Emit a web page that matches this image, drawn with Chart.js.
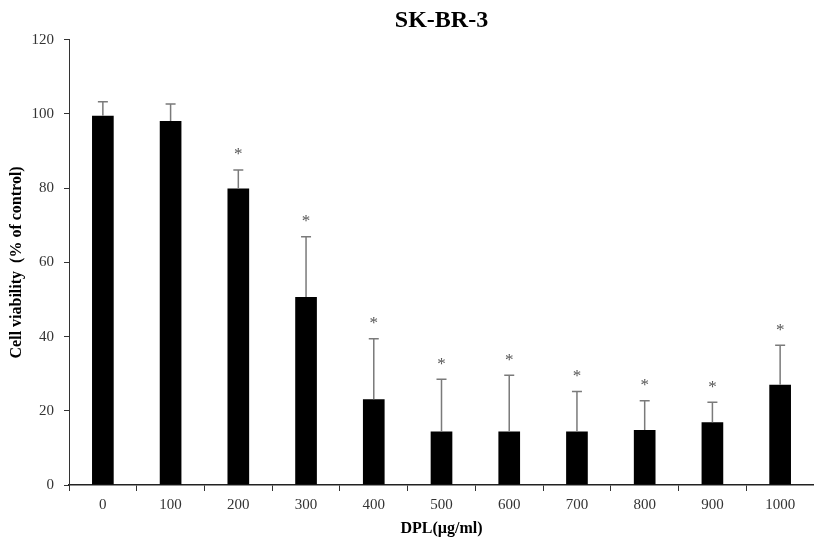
<!DOCTYPE html>
<html>
<head>
<meta charset="utf-8">
<script src="https://cdn.jsdelivr.net/npm/chart.js@4"></script>
<style>
  html, body { margin: 0; padding: 0; background: #fff; overflow: hidden; }
  #wrap { width: 814px; height: 537px; }
</style>
</head>
<body>
<div id="wrap"><canvas id="chartViability"></canvas></div>
<script>
// data
const doses = ["0", "100", "200", "300", "400", "500", "600", "700", "800", "900", "1000"];
const viability = [99.5, 98.1, 79.9, 50.7, 23.1, 14.4, 14.4, 14.4, 14.8, 16.9, 27.0];
const sdUpper = [3.8, 4.6, 5.0, 16.2, 16.3, 14.1, 15.2, 10.8, 7.9, 5.4, 10.7];
const significant = [false, false, true, true, true, true, true, true, true, true, true];
const yTicks = [0, 20, 40, 60, 80, 100, 120];

const serif = "'Liberation Serif', 'Times New Roman', serif";

// upper error bars + asterisks
const errorBars = {
    id: "errorBars",
    afterDatasetsDraw(chart) {
        const ctx = chart.ctx;
        const y = chart.scales.y;
        const meta = chart.getDatasetMeta(0);
        ctx.save();
        meta.data.forEach(function (bar, i) {
            const yBar = y.getPixelForValue(viability[i]);
            const yTop = y.getPixelForValue(viability[i] + sdUpper[i]);
            ctx.strokeStyle = "#7a7a7a";
            ctx.lineWidth = 1.5;
            ctx.beginPath();
            ctx.moveTo(bar.x, yBar);
            ctx.lineTo(bar.x, yTop);
            ctx.moveTo(bar.x - 5, yTop);
            ctx.lineTo(bar.x + 5, yTop);
            ctx.stroke();
            if (significant[i]) {
                ctx.fillStyle = "#555";
                ctx.font = "17px " + serif;
                ctx.textAlign = "center";
                ctx.textBaseline = "middle";
                ctx.fillText("*", bar.x, yTop - 15);
            }
        });
        ctx.restore();
    },
};

document.addEventListener("DOMContentLoaded", function () {
    const ctx = document.getElementById("chartViability").getContext("2d");
    new Chart(ctx, {
        type: "bar",
        data: {
            labels: doses,
            datasets: [
                {
                    label: "Cell viability",
                    data: viability,
                    backgroundColor: "#000",
                    borderWidth: 0,
                    barPercentage: 0.32,
                    categoryPercentage: 1,
                },
            ],
        },
        options: {
            responsive: true,
            maintainAspectRatio: false,
            animation: false,
            layout: { padding: 0 },
            plugins: {
                legend: { display: false },
                tooltip: { enabled: false },
                title: {
                    display: true,
                    text: "SK-BR-3",
                    fullSize: false,
                    color: "#000",
                    font: { family: serif, size: 24, weight: "bold", lineHeight: 1.2 },
                    padding: { top: 6, bottom: 5 },
                },
            },
            scales: {
                x: {
                    afterFit: function (scale) { scale.height = 52; },
                    grid: {
                        display: true,
                        drawOnChartArea: false,
                        drawTicks: true,
                        tickLength: 6,
                        color: "#333",
                    },
                    border: { display: true, color: "#222", width: 1.5 },
                    ticks: {
                        color: "#333",
                        padding: 5,
                        font: { family: serif, size: 15 },
                    },
                    title: {
                        display: true,
                        text: "DPL(µg/ml)",
                        color: "#000",
                        font: { family: serif, size: 16, weight: "bold", lineHeight: 1 },
                        padding: { top: 0, bottom: 0 },
                    },
                },
                y: {
                    min: 0,
                    max: 120,
                    afterFit: function (scale) { scale.width = 69; },
                    afterBuildTicks: function (scale) {
                        scale.ticks = yTicks.map(function (v) { return { value: v }; });
                    },
                    grid: {
                        display: true,
                        drawOnChartArea: false,
                        drawTicks: true,
                        tickLength: 5,
                        color: "#333",
                    },
                    border: { display: true, color: "#333", width: 1 },
                    ticks: {
                        color: "#333",
                        padding: 10,
                        font: { family: serif, size: 15 },
                    },
                    title: {
                        display: true,
                        text: "Cell viability  (% of control)",
                        color: "#000",
                        font: { family: serif, size: 16, weight: "bold", lineHeight: 1.2 },
                        padding: { top: 7, bottom: 0 },
                    },
                },
            },
        },
        plugins: [errorBars],
    });
});
</script>
</body>
</html>
